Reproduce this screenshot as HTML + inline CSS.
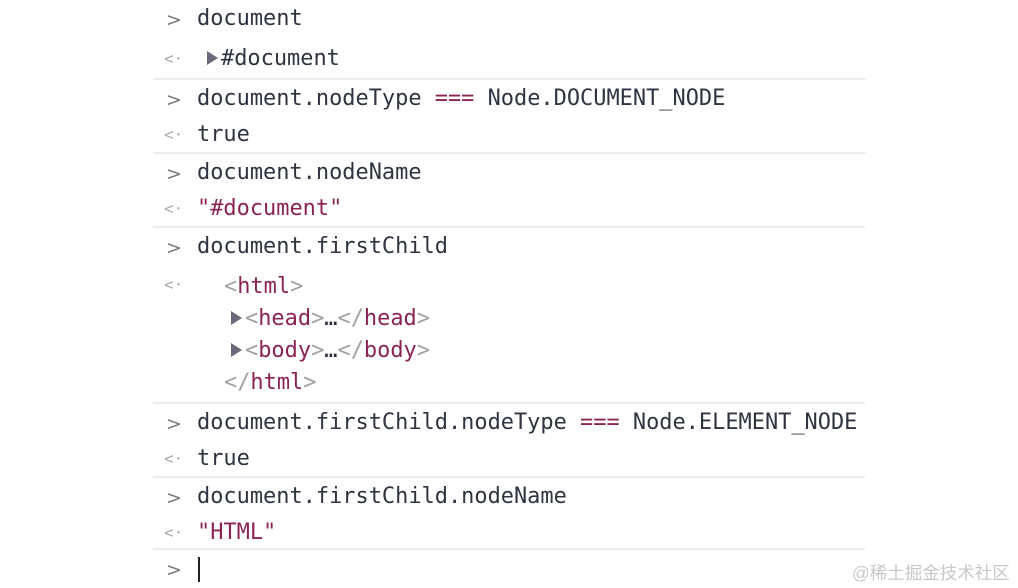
<!DOCTYPE html>
<html><head><meta charset="utf-8"><style>
body{margin:0;width:1018px;height:588px;background:#fff;position:relative;overflow:hidden;font-family:"DejaVu Sans Mono","Liberation Mono",monospace;font-size:21.95px;color:#2f3440}
.l{position:absolute;white-space:pre;line-height:26px}
.p{position:absolute;left:166px;color:#777;font-size:19px;line-height:26px;font-family:"DejaVu Sans",sans-serif}
.r{position:absolute;left:164px;color:#aaa;font-size:16px;line-height:26px}
.s{position:absolute;left:153px;width:712px;height:2px;background:#ececec}
.m{color:#8b2454}.g{color:#a0a0a0}
.t{display:inline-block;width:0;height:0;border-top:7px solid transparent;border-bottom:7px solid transparent;border-left:11px solid #6a6a7c;margin-right:3px;vertical-align:0px}
.w{position:absolute;left:852px;top:560px;font-family:"Liberation Sans","Noto Sans CJK SC",sans-serif;font-size:17.5px;color:#c8c8c8}
</style></head><body>
<div class="p" style="top:7px">&gt;</div><div class="l" style="left:197px;top:6px">document</div>
<div class="r" style="top:46px">&lt;·</div><div class="l" style="left:207px;top:46px"><span class="t"></span>#document</div>
<div class="s" style="top:78px"></div>
<div class="p" style="top:87px">&gt;</div><div class="l" style="left:197px;top:86px">document.nodeType <span class="m">===</span> Node.DOCUMENT_NODE</div>
<div class="r" style="top:122px">&lt;·</div><div class="l" style="left:197px;top:122px">true</div>
<div class="s" style="top:152px"></div>
<div class="p" style="top:161px">&gt;</div><div class="l" style="left:197px;top:160px">document.nodeName</div>
<div class="r" style="top:196px">&lt;·</div><div class="l m" style="left:197px;top:196px">"#document"</div>
<div class="s" style="top:226px"></div>
<div class="p" style="top:235px">&gt;</div><div class="l" style="left:197px;top:234px">document.firstChild</div>
<div class="r" style="top:272px">&lt;·</div>
<div class="l" style="left:224px;top:274px"><span class="g">&lt;</span><span class="m">html</span><span class="g">&gt;</span></div>
<div class="l" style="left:231px;top:306px"><span class="t"></span><span class="g">&lt;</span><span class="m">head</span><span class="g">&gt;</span>…<span class="g">&lt;/</span><span class="m">head</span><span class="g">&gt;</span></div>
<div class="l" style="left:231px;top:338px"><span class="t"></span><span class="g">&lt;</span><span class="m">body</span><span class="g">&gt;</span>…<span class="g">&lt;/</span><span class="m">body</span><span class="g">&gt;</span></div>
<div class="l" style="left:224px;top:370px"><span class="g">&lt;/</span><span class="m">html</span><span class="g">&gt;</span></div>
<div class="s" style="top:402px"></div>
<div class="p" style="top:411px">&gt;</div><div class="l" style="left:197px;top:410px">document.firstChild.nodeType <span class="m">===</span> Node.ELEMENT_NODE</div>
<div class="r" style="top:446px">&lt;·</div><div class="l" style="left:197px;top:446px">true</div>
<div class="s" style="top:476px"></div>
<div class="p" style="top:485px">&gt;</div><div class="l" style="left:197px;top:484px">document.firstChild.nodeName</div>
<div class="r" style="top:520px">&lt;·</div><div class="l m" style="left:197px;top:520px">"HTML"</div>
<div class="s" style="top:548px"></div>
<div class="p" style="top:557px">&gt;</div><div style="position:absolute;left:198px;top:557px;width:2px;height:25px;background:#222"></div>
<div class="w">@稀土掘金技术社区</div>
</body></html>
